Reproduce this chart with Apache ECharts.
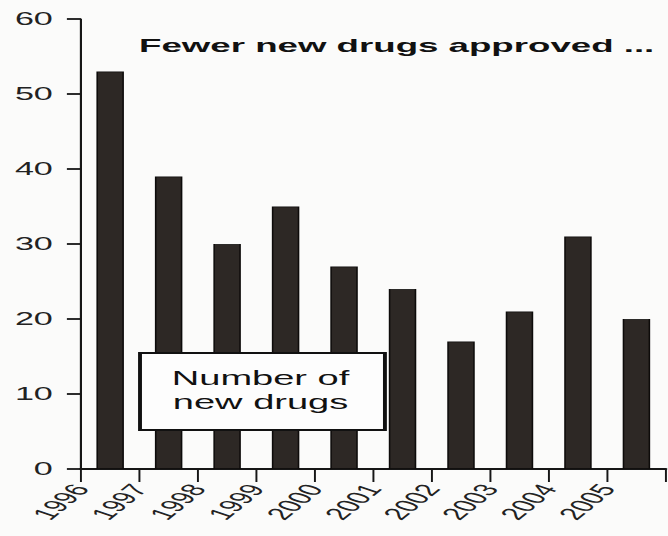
<!DOCTYPE html>
<html><head><meta charset="utf-8">
<script src="https://cdn.jsdelivr.net/npm/echarts@6/dist/echarts.min.js"></script>
<style>
html,body{margin:0;padding:0;background:#fbfbfa;overflow:hidden;}
#wrap{width:668px;height:536px;overflow:hidden;position:relative;background:#fbfbfa;}
#chart{width:342.6px;height:536px;transform:scaleX(1.95);transform-origin:0 0;}
</style></head><body>
<div id="wrap"><div id="chart"></div></div>
<script>
const years = ['1996','1997','1998','1999','2000','2001','2002','2003','2004','2005'];
const drugsApproved = [53, 39, 30, 35, 27, 24, 17, 21, 31, 20];
const yMin = 0, yMax = 60, yInterval = 10;
const titleText = 'Fewer new drugs approved ...';
const boxText = 'Number of\nnew drugs';

const FONT = '"Liberation Sans", Arial, sans-serif';
const INK = '#161616';
const chart = echarts.init(document.getElementById('chart'), null, {renderer: 'svg'});
chart.setOption({
  animation: false,
  backgroundColor: '#fbfbfa',
  title: {
    text: titleText, left: 71.3, top: 36.5, padding: 0,
    textStyle: {fontSize: 18.8, fontWeight: 'bold', fontFamily: FONT, color: '#111'}
  },
  grid: {left: 41.5, right: 1, top: 19, bottom: 67, containLabel: false},
  xAxis: [
    {
      type: 'category', data: years, boundaryGap: true,
      axisLine: {lineStyle: {color: INK, width: 1.8}},
      axisTick: {show: true, length: 13, interval: 0, alignWithLabel: false, lineStyle: {color: INK, width: 1}},
      axisLabel: {show: false}, splitLine: {show: false}
    },
    {
      type: 'value', min: 0, max: years.length, interval: 1, position: 'bottom',
      axisLine: {show: false}, axisTick: {show: false}, splitLine: {show: false},
      axisLabel: {
        formatter: v => years[v] || '', rotate: 57, showMinLabel: true,
        fontSize: 17, fontFamily: FONT, color: '#222', margin: 17
      }
    }
  ],
  yAxis: {
    type: 'value', min: yMin, max: yMax, interval: yInterval,
    axisLine: {show: true, lineStyle: {color: INK, width: 1.1}},
    axisTick: {show: true, length: 7.2, lineStyle: {color: INK, width: 1.8}},
    splitLine: {show: false},
    axisLabel: {fontSize: 17.5, fontFamily: FONT, color: '#222', margin: 14.4}
  },
  series: [{
    type: 'bar', xAxisIndex: 0, yAxisIndex: 0, data: drugsApproved, barWidth: '47%',
    itemStyle: {color: '#2d2825', borderColor: '#0d0b0a', borderWidth: 0.8}
  }],
  graphic: [
    {type: 'rect', left: 70.8, top: 352, z: 100,
     shape: {width: 125.6, height: 77},
     style: {fill: '#fdfdfd', stroke: '#111', lineWidth: 2}},
    {type: 'text', x: 133.6, y: 390.5, z: 101,
     style: {text: boxText, font: '19.5px ' + FONT, fill: '#111',
             align: 'center', verticalAlign: 'middle', textAlign: 'center', textVerticalAlign: 'middle', lineHeight: 24}}
  ]
});
</script>
</body></html>
